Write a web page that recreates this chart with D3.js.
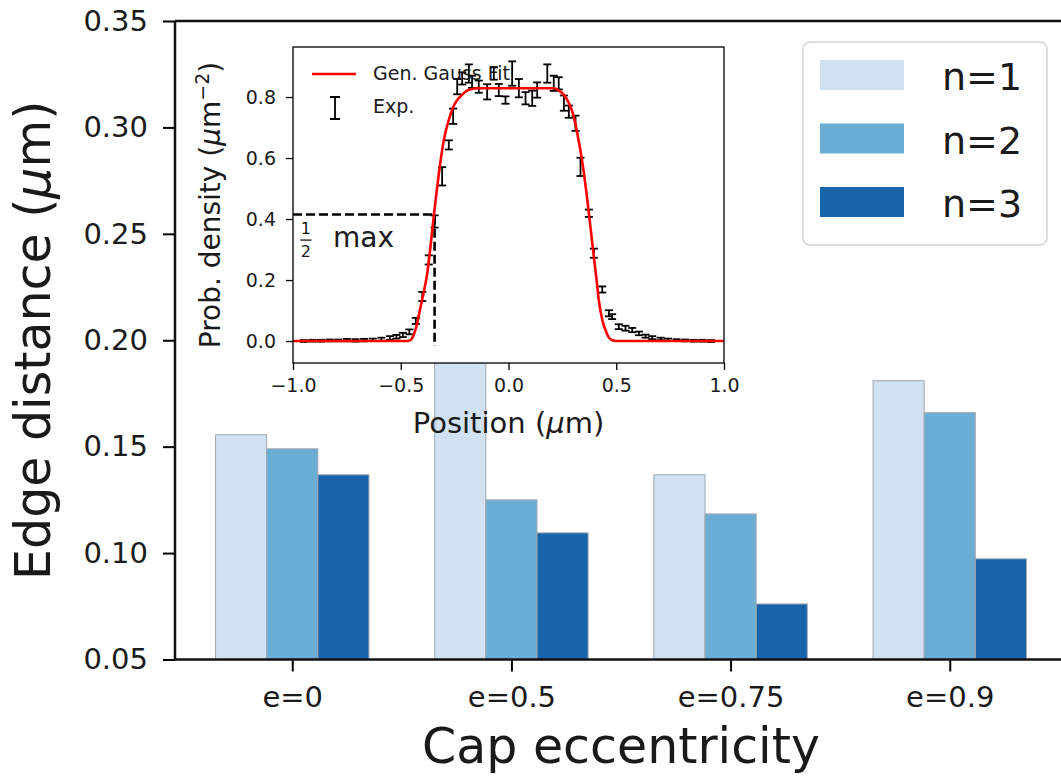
<!DOCTYPE html>
<html>
<head>
<meta charset="utf-8">
<title>Edge distance vs cap eccentricity</title>
<script src="https://d3js.org/d3.v7.min.js"></script>
<style>
body {
	margin: 0;
	background-color: white;
}
svg {
	display: block;
	font-family: "DejaVu Sans", sans-serif;
}
.axis line {
	stroke: black;
}
.axis text {
	fill: #1a1a1a;
}
.bar {
	stroke: #a3a9b0;
	stroke-width: 1;
}
</style>
</head>
<body>
<div id="chart"></div>
<script>
/* globals d3 */
"use strict";

// main bar chart
const categories = ["e=0", "e=0.5", "e=0.75", "e=0.9"];
const seriesNames = ["n=1", "n=2", "n=3"];
const seriesColors = ["#d0e1f2", "#6aaed6", "#1764ab"];
const n1Values = [0.1556, 0.205, 0.1368, 0.181];
const n2Values = [0.149, 0.125, 0.1184, 0.166];
const n3Values = [0.1368, 0.1095, 0.0761, 0.0973];
const yTicks = [0.05, 0.10, 0.15, 0.20, 0.25, 0.30, 0.35];

// inset: generalized gaussian fit
const fitX = [-1.0, -0.6, -0.5, -0.47, -0.455, -0.44, -0.425, -0.408, -0.392, -0.377, -0.362,
	-0.347, -0.335, -0.323, -0.30, -0.277, -0.258, -0.238, -0.215, -0.192, -0.17, -0.145,
	0.0, 0.21, 0.233, 0.257, 0.277, 0.296, 0.308, 0.319, 0.335, 0.35, 0.362, 0.373, 0.385,
	0.396, 0.408, 0.419, 0.435, 0.45, 0.465, 0.481, 0.5, 0.6, 1.0];
const fitY = [0, 0, 0, 0, 0.003, 0.02, 0.055, 0.112, 0.165, 0.222, 0.31,
	0.408, 0.48, 0.55, 0.659, 0.725, 0.765, 0.79, 0.808, 0.821, 0.826, 0.829,
	0.829, 0.829, 0.822, 0.807, 0.785, 0.752, 0.72, 0.681, 0.62, 0.55, 0.485, 0.419, 0.345,
	0.276, 0.205, 0.134, 0.07, 0.036, 0.012, 0.003, 0, 0, 0];

// inset: experimental points with error bars
const expX = [-0.95, -0.91, -0.87, -0.83, -0.79, -0.75, -0.71, -0.67, -0.63, -0.59, -0.55,
	-0.52, -0.49, -0.46, -0.43, -0.40, -0.37, -0.343, -0.308, -0.277, -0.257, -0.238,
	-0.215, -0.184, -0.169, -0.138, -0.099, -0.068, -0.045, -0.014, 0.017, 0.048, 0.079,
	0.110, 0.133, 0.180, 0.210, 0.233, 0.257, 0.280, 0.311, 0.334, 0.373, 0.396, 0.435,
	0.466, 0.481, 0.512, 0.543, 0.574, 0.605, 0.636, 0.667, 0.706, 0.74, 0.78, 0.82,
	0.86, 0.90, 0.94];
const expY = [0.000, 0.001, 0.001, 0.002, 0.002, 0.003, 0.002, 0.003, 0.004, 0.006, 0.010,
	0.014, 0.020, 0.030, 0.066, 0.146, 0.266, 0.392, 0.540, 0.643, 0.737, 0.834,
	0.861, 0.877, 0.850, 0.834, 0.817, 0.877, 0.823, 0.790, 0.877, 0.829, 0.796,
	0.796, 0.823, 0.877, 0.845, 0.845, 0.780, 0.752, 0.714, 0.571, 0.419, 0.288, 0.169,
	0.091, 0.080, 0.047, 0.042, 0.036, 0.025, 0.016, 0.011, 0.007, 0.004, 0.003, 0.002,
	0.001, 0.001, 0.000];
const expErr = [0.003, 0.003, 0.003, 0.003, 0.003, 0.004, 0.004, 0.004, 0.004, 0.005, 0.006,
	0.006, 0.007, 0.008, 0.010, 0.015, 0.015, 0.020, 0.030, 0.015, 0.025, 0.025,
	0.020, 0.030, 0.020, 0.020, 0.025, 0.020, 0.020, 0.012, 0.040, 0.030, 0.020,
	0.025, 0.025, 0.030, 0.025, 0.020, 0.025, 0.020, 0.025, 0.030, 0.012, 0.015, 0.010,
	0.010, 0.008, 0.008, 0.008, 0.007, 0.006, 0.005, 0.005, 0.004, 0.004, 0.003, 0.003,
	0.003, 0.003, 0.003];
const insetXTicks = [-1.0, -0.5, 0.0, 0.5, 1.0];
const insetYTicks = [0.0, 0.2, 0.4, 0.6, 0.8];
const halfMaxLevel = 0.415;
const halfMaxPos = -0.343;

const FONT = "DejaVu Sans";

function drawChart()
{
	const width = 1061, height = 778;
	const svg = d3.select("#chart").append("svg")
		.attr("width", width)
		.attr("height", height);

	// ---- main axes ----
	const plot = {left: 175, right: 1067, top: 21, bottom: 659.5};
	const x = d3.scaleLinear([-0.535, categories.length - 1 + 0.535], [plot.left, plot.right]);
	const y = d3.scaleLinear([0.05, 0.35], [plot.bottom, plot.top]);
	const barW = 0.7 / seriesNames.length;
	const series = [n1Values, n2Values, n3Values];

	series.forEach((vals, k) => {
		svg.append("g").selectAll("rect")
			.data(vals)
			.join("rect")
			.attr("class", "bar")
			.attr("x", (d, i) => x(i - 0.35 + k * barW))
			.attr("width", x(barW) - x(0))
			.attr("y", d => y(d))
			.attr("height", d => y(0.05) - y(d))
			.attr("fill", seriesColors[k]);
	});

	const yAxis = d3.axisLeft(y).tickValues(yTicks).tickSize(12).tickPadding(15)
		.tickFormat(d3.format(".2f"));
	svg.append("g")
		.attr("class", "axis")
		.attr("transform", "translate(" + plot.left + ",0)")
		.call(yAxis)
		.attr("font-family", FONT)
		.attr("font-size", 29)
		.call(g => g.select(".domain").remove())
		.call(g => g.selectAll("line").attr("stroke-width", 2));

	const xAxis = d3.axisBottom(x).tickValues(d3.range(categories.length))
		.tickSize(12).tickPadding(15).tickFormat(i => categories[i]);
	svg.append("g")
		.attr("class", "axis")
		.attr("transform", "translate(0," + plot.bottom + ")")
		.call(xAxis)
		.attr("font-family", FONT)
		.attr("font-size", 29)
		.call(g => g.select(".domain").remove())
		.call(g => g.selectAll("line").attr("stroke-width", 2));

	// spines
	const spine = (x1, y1, x2, y2) => svg.append("line")
		.attr("x1", x1).attr("y1", y1).attr("x2", x2).attr("y2", y2)
		.attr("stroke", "#111").attr("stroke-width", 2.5);
	spine(plot.left, plot.top, plot.left, plot.bottom);
	spine(plot.left, plot.bottom, plot.right, plot.bottom);
	spine(plot.left, plot.top, plot.right, plot.top);

	svg.append("text")
		.attr("transform", "translate(50," + (plot.top + plot.bottom) / 2 + ") rotate(-90)")
		.attr("text-anchor", "middle")
		.attr("font-size", 49)
		.attr("fill", "#1a1a1a")
		.html("Edge distance (<tspan font-style=\"italic\">\u03bc</tspan>m)");
	svg.append("text")
		.attr("x", (plot.left + plot.right) / 2)
		.attr("y", 763)
		.attr("text-anchor", "middle")
		.attr("font-size", 49)
		.attr("fill", "#1a1a1a")
		.text("Cap eccentricity");

	// legend
	const legend = svg.append("g").attr("transform", "translate(803,42)");
	legend.append("rect")
		.attr("width", 244).attr("height", 203).attr("rx", 7)
		.attr("fill", "white").attr("fill-opacity", 0.8)
		.attr("stroke", "#d4d4d4").attr("stroke-width", 1.5);
	seriesNames.forEach((name, k) => {
		legend.append("rect")
			.attr("x", 17).attr("y", 18 + k * 63.5)
			.attr("width", 84).attr("height", 30)
			.attr("fill", seriesColors[k]);
		legend.append("text")
			.attr("x", 139).attr("y", 48 + k * 63.5)
			.attr("font-size", 38)
			.attr("fill", "#1a1a1a")
			.text(name);
	});

	// ---- inset ----
	const ins = {left: 293, right: 724, top: 47, bottom: 363};
	const ix = d3.scaleLinear([-1, 1], [ins.left, ins.right]);
	const iy = d3.scaleLinear([-0.072, 0.964], [ins.bottom, ins.top]);

	svg.append("rect")
		.attr("x", ins.left).attr("y", ins.top)
		.attr("width", ins.right - ins.left).attr("height", ins.bottom - ins.top)
		.attr("fill", "white");

	svg.append("defs").append("clipPath").attr("id", "insetClip")
		.append("rect")
		.attr("x", ins.left).attr("y", ins.top)
		.attr("width", ins.right - ins.left).attr("height", ins.bottom - ins.top);
	const inner = svg.append("g").attr("clip-path", "url(#insetClip)");

	// half max guide
	inner.append("path")
		.attr("d", d3.line()([[ix(-1), iy(halfMaxLevel)], [ix(halfMaxPos), iy(halfMaxLevel)],
			[ix(halfMaxPos), iy(-0.016)]]))
		.attr("fill", "none")
		.attr("stroke", "black")
		.attr("stroke-width", 2.6)
		.attr("stroke-dasharray", "9,4");

	// error bars
	const exp = expX.map((v, i) => ({x: v, y: expY[i], e: expErr[i]}));
	const eb = inner.append("g").selectAll("g").data(exp).join("g");
	eb.append("line")
		.attr("x1", d => ix(d.x)).attr("x2", d => ix(d.x))
		.attr("y1", d => iy(d.y - d.e)).attr("y2", d => iy(d.y + d.e));
	eb.append("line")
		.attr("x1", d => ix(d.x) - 4).attr("x2", d => ix(d.x) + 4)
		.attr("y1", d => iy(d.y - d.e)).attr("y2", d => iy(d.y - d.e));
	eb.append("line")
		.attr("x1", d => ix(d.x) - 4).attr("x2", d => ix(d.x) + 4)
		.attr("y1", d => iy(d.y + d.e)).attr("y2", d => iy(d.y + d.e));
	eb.selectAll("line").attr("stroke", "black").attr("stroke-width", 1.8);

	// fit curve
	inner.append("path")
		.attr("d", d3.line().x(d => ix(d)).y((d, i) => iy(fitY[i]))
			.curve(d3.curveMonotoneX)(fitX))
		.attr("fill", "none")
		.attr("stroke", "#ff0000")
		.attr("stroke-width", 2.6);

	// inset legend
	const il = svg.append("g").attr("font-size", 19).attr("fill", "#1a1a1a");
	il.append("line")
		.attr("x1", 312).attr("x2", 356).attr("y1", 74).attr("y2", 74)
		.attr("stroke", "#ff0000").attr("stroke-width", 2.6);
	il.append("text").attr("x", 373).attr("y", 80).text("Gen. Gauss Fit");
	il.append("path")
		.attr("d", "M335,97V119M330,97H340M330,119H340")
		.attr("stroke", "black").attr("stroke-width", 1.8).attr("fill", "none");
	il.append("text").attr("x", 373).attr("y", 113).text("Exp.");

	// half max label
	const hm = svg.append("g").attr("fill", "#1a1a1a");
	hm.append("text").attr("x", ix(-0.94)).attr("y", iy(0.352))
		.attr("text-anchor", "middle").attr("font-size", 16).text("1");
	hm.append("line")
		.attr("x1", ix(-0.966)).attr("x2", ix(-0.914))
		.attr("y1", iy(0.331)).attr("y2", iy(0.331))
		.attr("stroke", "#1a1a1a").attr("stroke-width", 1.3);
	hm.append("text").attr("x", ix(-0.94)).attr("y", iy(0.276))
		.attr("text-anchor", "middle").attr("font-size", 16).text("2");
	hm.append("text").attr("x", ix(-0.814)).attr("y", iy(0.308))
		.attr("font-size", 28).text("max");

	// inset axes
	const fmt1 = d3.format(".1f");
	svg.append("g")
		.attr("class", "axis")
		.attr("transform", "translate(0," + ins.bottom + ")")
		.call(d3.axisBottom(ix).tickValues(insetXTicks).tickSize(7).tickPadding(9)
			.tickFormat(d => fmt1(d)))
		.attr("font-family", FONT)
		.attr("font-size", 19)
		.call(g => g.select(".domain").remove())
		.call(g => g.selectAll("line").attr("stroke-width", 1.3));
	svg.append("g")
		.attr("class", "axis")
		.attr("transform", "translate(" + ins.left + ",0)")
		.call(d3.axisLeft(iy).tickValues(insetYTicks).tickSize(7).tickPadding(10)
			.tickFormat(d => fmt1(d)))
		.attr("font-family", FONT)
		.attr("font-size", 19)
		.call(g => g.select(".domain").remove())
		.call(g => g.selectAll("line").attr("stroke-width", 1.3));
	svg.append("rect")
		.attr("x", ins.left).attr("y", ins.top)
		.attr("width", ins.right - ins.left).attr("height", ins.bottom - ins.top)
		.attr("fill", "none").attr("stroke", "black").attr("stroke-width", 1.3);

	svg.append("text")
		.attr("x", (ins.left + ins.right) / 2)
		.attr("y", 433)
		.attr("text-anchor", "middle")
		.attr("font-size", 29)
		.attr("fill", "#1a1a1a")
		.html("Position (<tspan font-style=\"italic\">\u03bc</tspan>m)");
	svg.append("text")
		.attr("transform", "translate(220," + (ins.top + ins.bottom) / 2 + ") rotate(-90)")
		.attr("text-anchor", "middle")
		.attr("font-size", 28)
		.attr("fill", "#1a1a1a")
		.html("Prob. density (<tspan font-style=\"italic\">\u03bc</tspan>m" +
			"<tspan font-size=\"19\" dy=\"-11\">\u22122</tspan><tspan dy=\"11\">)</tspan>");
}
window.addEventListener("DOMContentLoaded", drawChart);
</script>
</body>
</html>
